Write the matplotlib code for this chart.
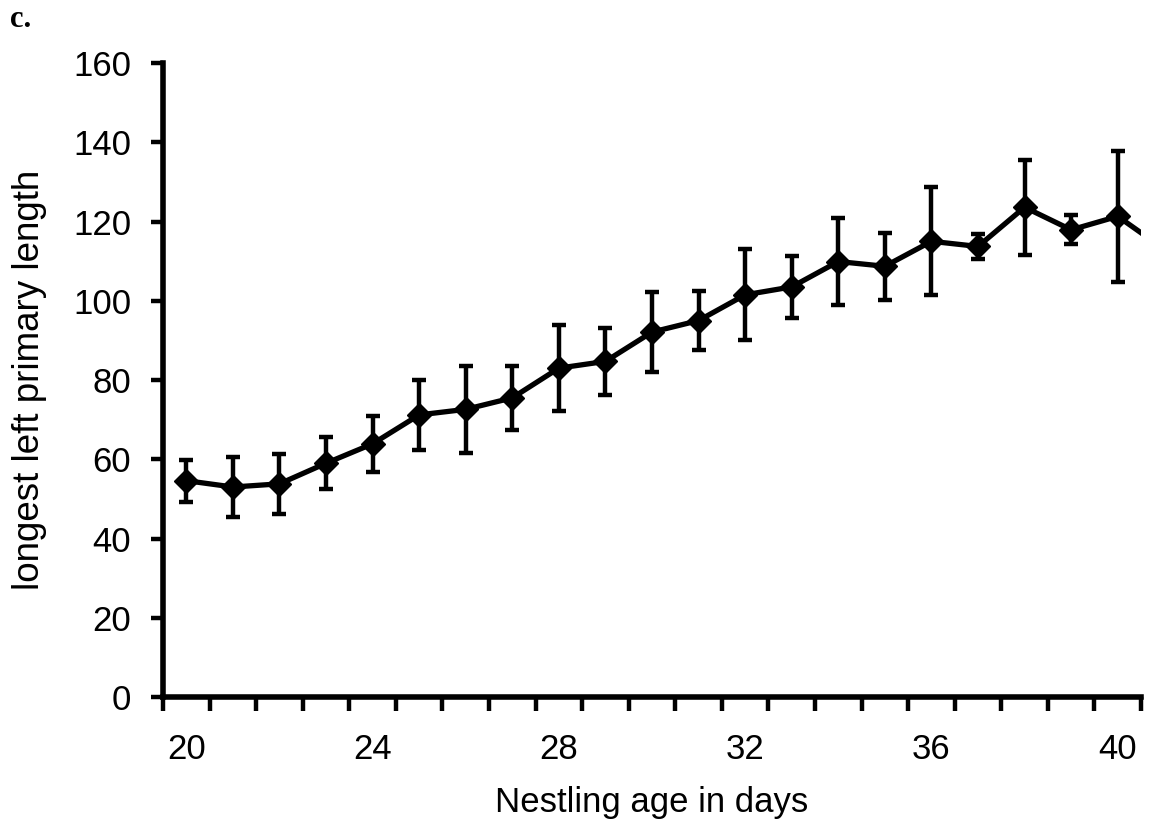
import numpy as np
import matplotlib
matplotlib.use("Agg")
import matplotlib.pyplot as plt

# datos (edad del pollo en dias vs longitud de la primaria)
dias = [20, 21, 22, 23, 24, 25, 26, 27, 28, 29, 30, 31, 32, 33, 34, 35, 36, 37, 38, 39, 40, 41]
longitud = [54.6, 53.0, 53.8, 59.0, 63.9, 71.2, 72.6, 75.5, 83.0, 84.7, 92.1,
            95.0, 101.5, 103.5, 109.9, 108.7, 115.0, 113.7, 123.6, 117.9, 121.3, 113.0]
error = [5.3, 7.6, 7.5, 6.6, 7.0, 8.8, 11.0, 8.0, 10.8, 8.5, 10.2,
         7.5, 11.5, 7.9, 11.0, 8.4, 13.6, 3.1, 12.0, 3.7, 16.5, 8.0]
etiquetas_x = [20, 24, 28, 32, 36, 40]
etiquetas_y = [0, 20, 40, 60, 80, 100, 120, 140, 160]

plt.rcParams['font.family'] = ['Liberation Sans', 'DejaVu Sans']

fig = plt.figure(figsize=(11.57, 8.30), dpi=100)
ax = fig.add_axes([0.1409, 0.1602, 0.8453, 0.7639])

ax.errorbar(dias, longitud, yerr=error, color="black", lw=3.8, marker="D", ms=12,
            elinewidth=3.2, capsize=5, capthick=3.2)

ax.set_xlim(19.5, 40.5)
ax.set_ylim(0, 160)

# etiquetas en el centro de cada categoria, marcas entre categorias
ax.set_xticks(etiquetas_x)
ax.set_xticks(np.arange(19.5, 41, 1), minor=True)
ax.tick_params(axis="x", which="major", length=0, pad=26, labelsize=25)
ax.tick_params(axis="x", which="minor", length=10, width=3.2, direction="out")
ax.set_yticks(etiquetas_y)
ax.tick_params(axis="y", length=9, width=3.2, direction="out", pad=14, labelsize=25)

for s in ["top", "right"]:
    ax.spines[s].set_visible(False)
for s in ["left", "bottom"]:
    ax.spines[s].set_linewidth(4)

ax.set_xlabel("Nestling age in days", fontsize=25)
ax.xaxis.set_label_coords(0.5, -0.14)
ax.set_ylabel("longest left primary length", fontsize=26.5)
ax.yaxis.set_label_coords(-0.1186, 0.5)

fig.text(0.009, 0.967, "c.", family="Liberation Serif", fontweight="bold", fontsize=22)

plt.savefig("out.png", dpi=100)
